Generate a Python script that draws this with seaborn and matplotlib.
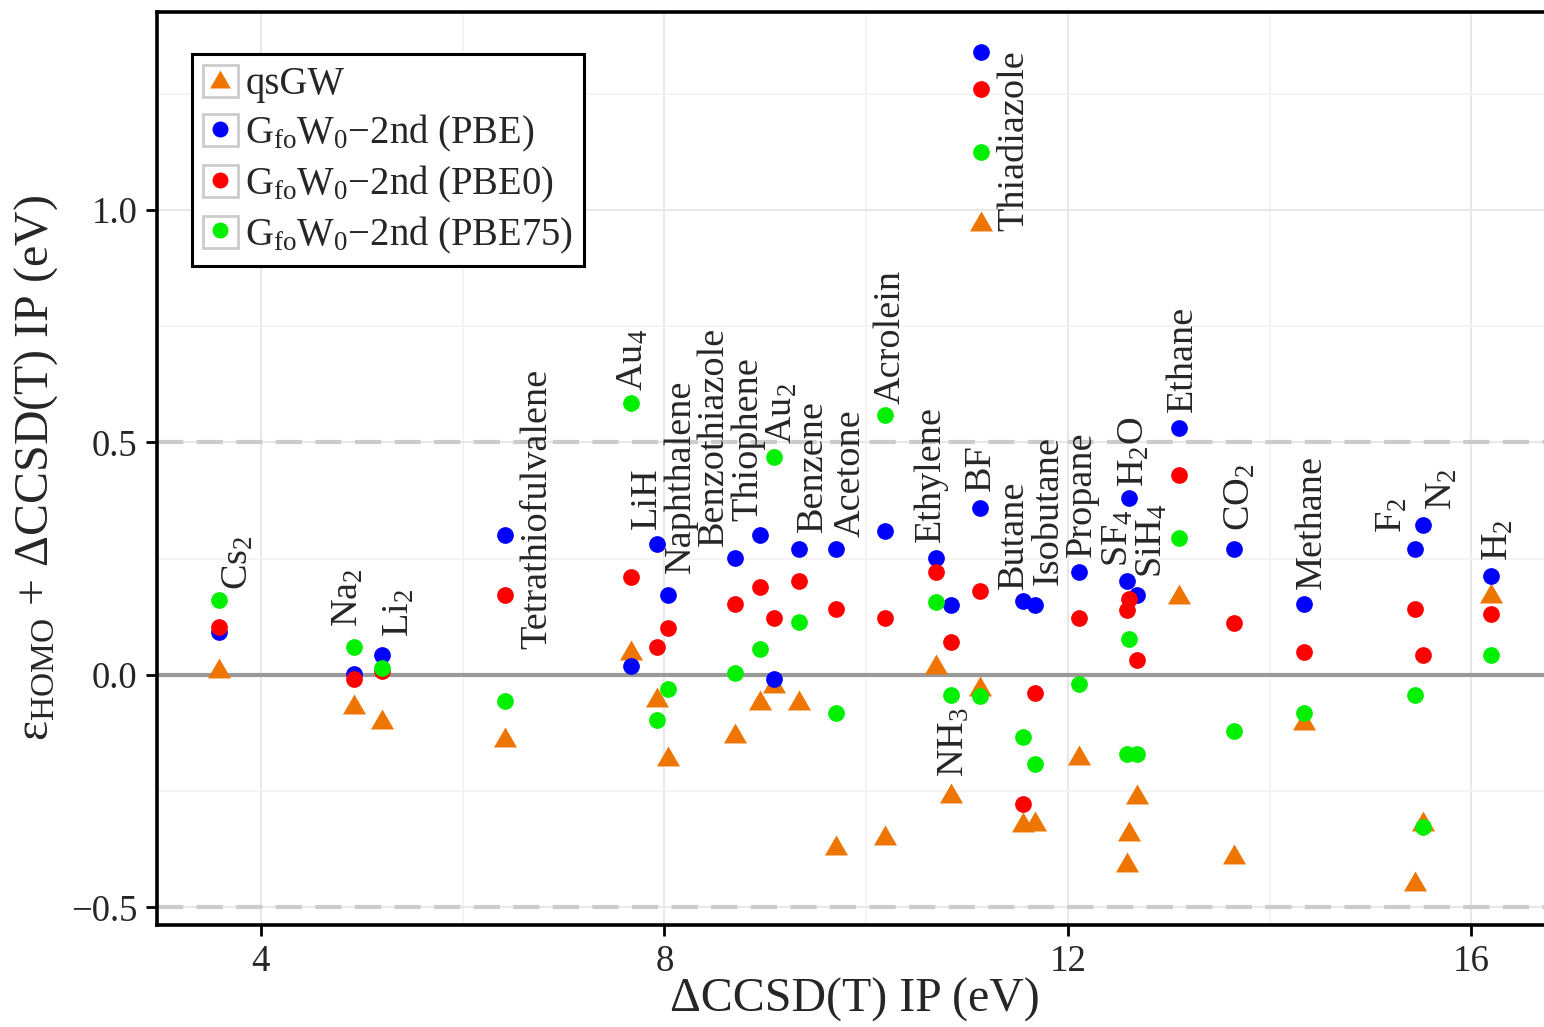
import matplotlib
matplotlib.use("Agg")
import matplotlib.pyplot as plt
import seaborn as sns
import pandas as pd
from matplotlib.path import Path
from matplotlib.markers import MarkerStyle
from matplotlib.patches import Patch
from matplotlib.lines import Line2D
from matplotlib.ticker import MultipleLocator

# molecules, ordered by the CCSD(T) IP
names = ['Cs$_\\mathrm{2}$', 'Na$_\\mathrm{2}$', 'Li$_\\mathrm{2}$', 'Tetrathiofulvalene',
         'Au$_\\mathrm{4}$', 'LiH', 'Naphthalene', 'Benzothiazole', 'Thiophene',
         'Au$_\\mathrm{2}$', 'Benzene', 'Acetone', 'Acrolein', 'Ethylene',
         'NH$_\\mathrm{3}$', 'BF', 'Thiadiazole', 'Butane', 'Isobutane', 'Propane',
         'SF$_\\mathrm{4}$', 'H$_\\mathrm{2}$O', 'SiH$_\\mathrm{4}$', 'Ethane',
         'CO$_\\mathrm{2}$', 'Methane', 'F$_\\mathrm{2}$', 'N$_\\mathrm{2}$', 'H$_\\mathrm{2}$']
ip = [3.58, 4.92, 5.20, 6.42, 7.67, 7.93, 8.04, 8.70, 8.95, 9.09, 9.33, 9.70, 10.19,
      10.69, 10.84, 11.13, 11.14, 11.56, 11.67, 12.11, 12.59, 12.61, 12.69, 13.10,
      13.65, 14.34, 15.44, 15.52, 16.19]
qsgw = [0.014, -0.063, -0.095, -0.133, 0.054, -0.047, -0.174, -0.124, -0.054, -0.018,
        -0.054, -0.365, -0.344, 0.024, -0.253, -0.023, 0.976, -0.316, -0.314, -0.173,
        -0.403, -0.336, -0.256, 0.174, -0.385, -0.097, -0.443, -0.314, 0.176]
pbe = [0.092, 0.002, 0.043, 0.300, 0.020, 0.281, 0.171, 0.251, 0.300, -0.009, 0.270,
       0.270, 0.310, 0.251, 0.151, 0.360, 1.340, 0.160, 0.151, 0.221, 0.201, 0.381,
       0.172, 0.531, 0.270, 0.152, 0.270, 0.322, 0.212]
pbe0 = [0.103, -0.009, 0.009, 0.171, 0.211, 0.061, 0.100, 0.152, 0.190, 0.122, 0.202,
        0.141, 0.122, 0.221, 0.070, 0.181, 1.260, -0.278, -0.039, 0.122, 0.140, 0.163,
        0.031, 0.431, 0.111, 0.050, 0.141, 0.042, 0.130]
pbe75 = [0.161, 0.059, 0.014, -0.056, 0.584, -0.098, -0.031, 0.005, 0.055, 0.468, 0.114,
         -0.081, 0.559, 0.157, -0.043, -0.045, 1.124, -0.133, -0.191, -0.020, -0.170,
         0.078, -0.170, 0.294, -0.120, -0.082, -0.044, -0.327, 0.043]

series = ['qsGW', 'G$_\\mathrm{fo}$W$_\\mathrm{0}$\u22122nd (PBE)',
          'G$_\\mathrm{fo}$W$_\\mathrm{0}$\u22122nd (PBE0)',
          'G$_\\mathrm{fo}$W$_\\mathrm{0}$\u22122nd (PBE75)']
colors = ['#EE7600', '#0000FF', '#FF0000', '#00F000']

# where the rotated molecule names sit (x centre, bottom of text)
label_x = [3.78, 4.87, 5.37, 6.74, 7.69, 7.82, 8.16, 8.49, 8.83, 9.17, 9.47, 9.84, 10.24,
           10.64, 10.87, 11.14, 11.47, 11.46, 11.81, 12.14, 12.50, 12.66, 12.84, 13.14,
           13.71, 14.42, 15.22, 15.71, 16.27]
label_y = [0.183, 0.103, 0.082, 0.055, 0.611, 0.314, 0.220, 0.278, 0.331, 0.497, 0.307,
           0.297, 0.583, 0.285, -0.219, 0.396, 0.955, 0.185, 0.194, 0.254, 0.232, 0.404,
           0.209, 0.566, 0.310, 0.185, 0.305, 0.354, 0.245]

sns.set_theme(style='white')
plt.rcParams['font.family'] = ['Liberation Serif', 'DejaVu Serif']
plt.rcParams['mathtext.fontset'] = 'custom'
plt.rcParams['mathtext.rm'] = 'Liberation Serif'
plt.rcParams['mathtext.it'] = 'Liberation Serif:italic'
plt.rcParams['mathtext.bf'] = 'Liberation Serif:bold'

tri = MarkerStyle(Path([(-1, -0.866), (1, -0.866), (0, 0.866), (-1, -0.866)],
                       [Path.MOVETO, Path.LINETO, Path.LINETO, Path.CLOSEPOLY]))

df = pd.DataFrame({'ip': ip, 'qsgw': qsgw, 'pbe': pbe, 'pbe0': pbe0, 'pbe75': pbe75})

fig = plt.figure(figsize=(15.44, 10.27), dpi=100)
ax = fig.add_axes([157 / 1544, 1 - 925 / 1027, 1 - 157 / 1544, (925 - 12) / 1027])

ax.set_xlim(2.97, 16.72)
ax.set_ylim(-0.538, 1.426)
ax.xaxis.set_major_locator(MultipleLocator(4))
ax.xaxis.set_minor_locator(MultipleLocator(2))
ax.yaxis.set_major_locator(MultipleLocator(0.5))
ax.yaxis.set_minor_locator(MultipleLocator(0.25))
ax.grid(which='major', color='#e6e6e6', lw=1.3)
ax.grid(which='minor', color='#f3f3f3', lw=1.3)
ax.set_axisbelow(True)

ax.axhline(0.5, color='#cccccc', lw=3, ls=(0, (6.3, 3.2)), zorder=1)
ax.axhline(-0.5, color='#cccccc', lw=3, ls=(0, (6.3, 3.2)), zorder=1)
ax.axhline(0, color='#999999', lw=3, zorder=1)

sns.scatterplot(data=df, x='ip', y='qsgw', marker=tri, s=275, color=colors[0],
                linewidth=0, legend=False, ax=ax, zorder=3)
for col, c in zip(['pbe', 'pbe0', 'pbe75'], colors[1:]):
    sns.scatterplot(data=df, x='ip', y=col, marker='o', s=145, color=c,
                    linewidth=0, legend=False, ax=ax, zorder=3)

for name, lx, ly in zip(names, label_x, label_y):
    ax.text(lx, ly, name, rotation=90, ha='center', va='bottom', fontsize=27.5, zorder=4)

for side in ['left', 'bottom', 'top']:
    ax.spines[side].set_color('black')
    ax.spines[side].set_linewidth(2.6)
ax.spines['right'].set_visible(False)
ax.tick_params(which='major', direction='out', length=8, width=2, color='black',
               labelsize=26.5, pad=6, left=True, bottom=True)
ax.tick_params(which='minor', length=0)
ax.set_xlabel('')
ax.set_ylabel('')

fig.text(855 / 1544, 1 - 1000 / 1027, '\u0394CCSD(T) IP (eV)', ha='center', va='center',
         fontsize=34.5)
fig.text(36 / 1544, 1 - 468 / 1027, '\u03b5$_\\mathrm{HOMO}$ + \u0394CCSD(T) IP (eV)',
         rotation=90, ha='center', va='center', fontsize=34.5)

handles = []
for i, c in enumerate(colors):
    box = Patch(facecolor='white', edgecolor='#cccccc', linewidth=2)
    if i == 0:
        mk = Line2D([], [], marker=tri, markersize=15, color=c, ls='', markeredgewidth=0)
    else:
        mk = Line2D([], [], marker='o', markersize=11.5, color=c, ls='', markeredgewidth=0)
    handles.append((box, mk))
leg = ax.legend(handles, series, loc='upper left', bbox_to_anchor=(0.0252, 0.954),
                borderaxespad=0, fontsize=27.8, handlelength=0.9, handleheight=0.9,
                handletextpad=0.2, labelspacing=0.25, borderpad=0.28, fancybox=False,
                frameon=True, framealpha=1)
leg.get_frame().set_edgecolor('black')
leg.get_frame().set_linewidth(2.2)

fig.savefig('out.png', dpi=100)
